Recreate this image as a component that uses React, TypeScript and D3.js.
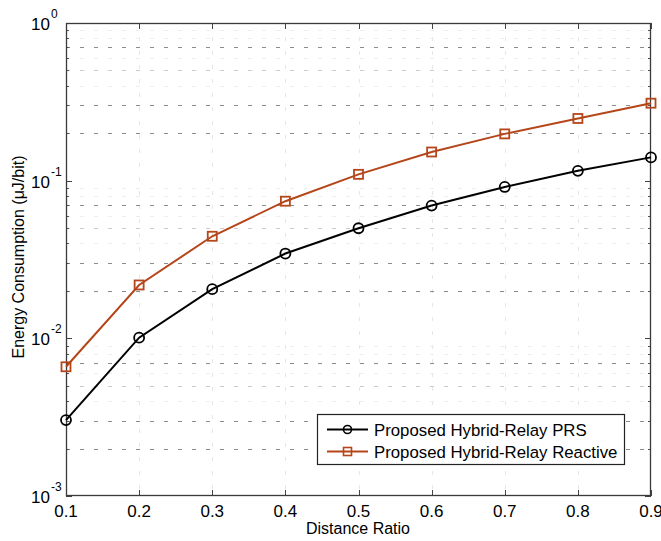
import React from "react";
import * as d3 from "d3";

const distanceRatio = [0.1, 0.2, 0.3, 0.4, 0.5, 0.6, 0.7, 0.8, 0.9];
const prsValues = [0.00303, 0.0101, 0.0205, 0.0345, 0.0499, 0.0695, 0.0912, 0.1155, 0.1405];
const reactiveValues = [0.0066, 0.0218, 0.0444, 0.0741, 0.1097, 0.152, 0.198, 0.248, 0.31];
const xTickLabels = ["0.1", "0.2", "0.3", "0.4", "0.5", "0.6", "0.7", "0.8", "0.9"];
const yDecades = [-3, -2, -1, 0];
const seriesNames = ["Proposed Hybrid-Relay PRS", "Proposed Hybrid-Relay Reactive"];

const W = 661;
const H = 541;
const L = 66, R = 651, T = 23, B = 496;
const FONT = "Arial, 'Liberation Sans', sans-serif";
const ORANGE = "#b5461a";

export default function App() {
  const x = d3.scaleLinear().domain([0.1, 0.9]).range([L, R]);
  const y = d3.scaleLog().domain([1e-3, 1]).range([B, T]);

  const minor: { v: number; m: number }[] = [];
  for (let e = -3; e < 0; e++) {
    for (let m = 2; m <= 9; m++) minor.push({ v: m * Math.pow(10, e), m });
  }
  const gridColor = (m: number) =>
    m === 2 || m === 3 || m === 7 ? "#8c8c8c" : m === 5 ? "#cccccc" : "#eeeeee";

  const line = d3
    .line<number>()
    .x((_, i) => x(distanceRatio[i]))
    .y((d) => y(d));

  const px = (v: number) => Math.round(v) + 0.5;

  return (
    <svg
      width={W}
      height={H}
      style={{ position: "absolute", left: 0, top: 0, background: "#fff" }}
      fontFamily={FONT}
    >
      <rect x={0} y={0} width={W} height={H} fill="#fff" />
      {/* vertical grid */}
      {distanceRatio.slice(1, -1).map((d) => (
        <line
          key={"vg" + d}
          x1={px(x(d))}
          x2={px(x(d))}
          y1={T}
          y2={B}
          stroke="#e6e6e6"
          strokeDasharray="4,10"
        />
      ))}
      {/* horizontal minor grid */}
      {minor.map(({ v, m }) => (
        <line
          key={"hg" + v}
          x1={L}
          x2={R}
          y1={px(y(v))}
          y2={px(y(v))}
          stroke={gridColor(m)}
          strokeDasharray="4,10"
        />
      ))}
      {/* minor y ticks */}
      {minor.map(({ v }) => (
        <g key={"mt" + v}>
          <line x1={L} x2={L + 3} y1={px(y(v))} y2={px(y(v))} stroke="#555" />
          <line x1={R} x2={R - 3} y1={px(y(v))} y2={px(y(v))} stroke="#555" />
        </g>
      ))}
      {/* major y ticks */}
      {yDecades.map((e) => (
        <g key={"yt" + e}>
          <line x1={L} x2={L + 6} y1={px(y(Math.pow(10, e)))} y2={px(y(Math.pow(10, e)))} stroke="#444" />
          <line x1={R} x2={R - 6} y1={px(y(Math.pow(10, e)))} y2={px(y(Math.pow(10, e)))} stroke="#444" />
          <text
            x={L - 16}
            y={y(Math.pow(10, e)) + 7}
            fontSize={17}
            textAnchor="end"
            fill="#000"
          >
            10
          </text>
          <text x={L - 15} y={y(Math.pow(10, e)) - 5} fontSize={12} fill="#000">
            {String(e)}
          </text>
        </g>
      ))}
      {/* x ticks */}
      {distanceRatio.map((d, i) => (
        <g key={"xt" + d}>
          <line x1={px(x(d))} x2={px(x(d))} y1={B} y2={B - 6} stroke="#444" />
          <line x1={px(x(d))} x2={px(x(d))} y1={T} y2={T + 6} stroke="#444" />
          <text x={x(d)} y={517} fontSize={17} textAnchor="middle" fill="#000">
            {xTickLabels[i]}
          </text>
        </g>
      ))}
      {/* axes box */}
      <rect x={L + 0.5} y={T + 0.5} width={R - L - 1} height={B - T - 1} fill="none" stroke="#3a3a3a" strokeWidth={1.3} />

      {/* series */}
      <path d={line(prsValues) || ""} fill="none" stroke="#000" strokeWidth={2} />
      {prsValues.map((v, i) => (
        <circle key={"c" + i} cx={x(distanceRatio[i])} cy={y(v)} r={5} fill="none" stroke="#000" strokeWidth={1.8} />
      ))}
      <path d={line(reactiveValues) || ""} fill="none" stroke={ORANGE} strokeWidth={2} />
      {reactiveValues.map((v, i) => (
        <rect
          key={"s" + i}
          x={x(distanceRatio[i]) - 4.5}
          y={y(v) - 4.5}
          width={9}
          height={9}
          fill="none"
          stroke={ORANGE}
          strokeWidth={1.8}
        />
      ))}

      {/* legend */}
      <rect x={317.5} y={414.5} width={307} height={50} fill="#fff" stroke="#222" strokeWidth={1.2} />
      <line x1={327} x2={368} y1={429.5} y2={429.5} stroke="#000" strokeWidth={2} />
      <circle cx={347.5} cy={429.5} r={4} fill="none" stroke="#000" strokeWidth={1.6} />
      <text x={374} y={435.5} fontSize={16.8} fill="#000">
        {seriesNames[0]}
      </text>
      <line x1={327} x2={368} y1={451.5} y2={451.5} stroke={ORANGE} strokeWidth={2} />
      <rect x={343.5} y={447.5} width={8} height={8} fill="none" stroke={ORANGE} strokeWidth={1.6} />
      <text x={374} y={457.5} fontSize={16.8} fill="#000">
        {seriesNames[1]}
      </text>

      {/* axis labels */}
      <text x={358} y={534} fontSize={16} textAnchor="middle" fill="#000">
        Distance Ratio
      </text>
      <text
        transform="translate(24,257) rotate(-90)"
        fontSize={16}
        textAnchor="middle"
        fill="#000"
      >
        Energy Consumption (μJ/bit)
      </text>
    </svg>
  );
}
